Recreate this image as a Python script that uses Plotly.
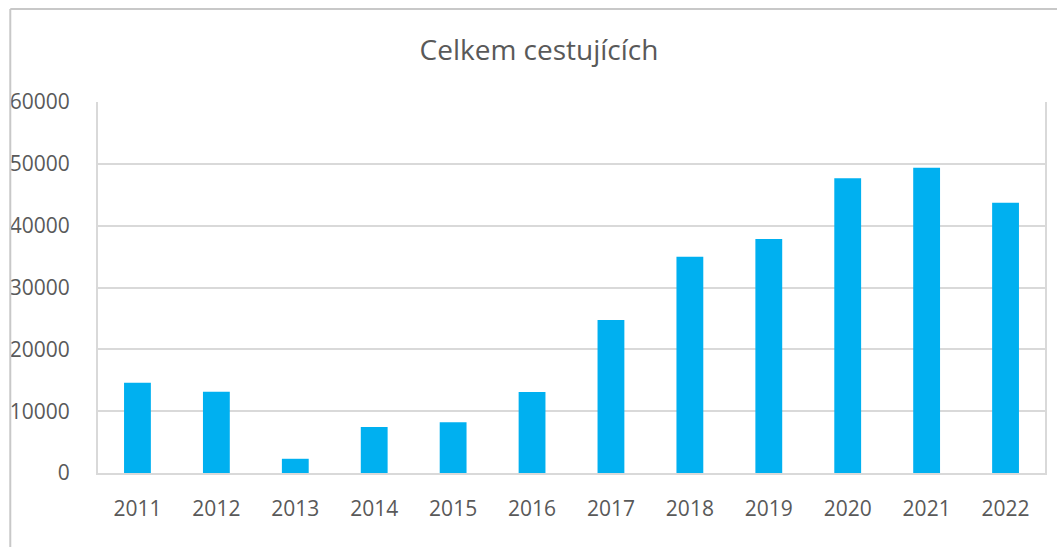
import plotly.graph_objects as go

# Passenger totals per year
years = ["2011", "2012", "2013", "2014", "2015", "2016",
         "2017", "2018", "2019", "2020", "2021", "2022"]
passengers = [14600, 13150, 2300, 7440, 8200, 13100,
              24750, 34980, 37850, 47660, 49380, 43720]
y_ticks = [0, 10000, 20000, 30000, 40000, 50000, 60000]

W, H = 1057, 547
ML, MR, MT, MB = 97, 10, 102, 74
plot_w = W - ML - MR
plot_h = H - MT - MB

fig = go.Figure(
    go.Bar(
        x=years,
        y=passengers,
        marker=dict(color="#00b0f0", line=dict(width=0)),
        width=0.34,
    )
)

grid = "#d9d9d9"
text_col = "#595959"
font = "Open Sans"

# outer frame (left and top edges) in paper coordinates
def px_x(px):
    return (px - ML) / plot_w

def px_y(py):
    return (H - MB - py) / plot_h

frame = "#c8c8c8"
shapes = [
    dict(type="line", xref="paper", yref="paper",
         x0=px_x(9), x1=px_x(W + 5), y0=px_y(9), y1=px_y(9),
         line=dict(color=frame, width=2)),
    dict(type="line", xref="paper", yref="paper",
         x0=px_x(9), x1=px_x(9), y0=px_y(9), y1=px_y(H + 5),
         line=dict(color=frame, width=2)),
]

fig.update_layout(
    width=W,
    height=H,
    margin=dict(l=ML, r=MR, t=MT, b=MB),
    paper_bgcolor="white",
    plot_bgcolor="white",
    showlegend=False,
    bargap=0.66,
    shapes=shapes,
    title=dict(
        text="Celkem cestujících",
        x=539 / W,
        xanchor="center",
        xref="container",
        y=1 - 50 / H,
        yanchor="middle",
        yref="container",
        font=dict(family=font, size=28, color=text_col),
    ),
    font=dict(family=font, color=text_col, size=21),
)

fig.update_xaxes(
    type="category",
    showgrid=False,
    showline=True,
    linecolor=grid,
    linewidth=2,
    ticks="",
    ticklabelstandoff=16,
    tickfont=dict(family=font, size=21, color=text_col),
)

fig.update_yaxes(
    range=[0, 60000],
    tickvals=y_ticks,
    ticktext=[str(v) for v in y_ticks],
    showgrid=True,
    gridcolor=grid,
    gridwidth=2,
    showline=True,
    mirror=True,
    linecolor=grid,
    linewidth=2,
    zeroline=False,
    ticks="",
    ticklabelstandoff=22,
    tickfont=dict(family=font, size=21, color=text_col),
)

fig.write_html("out.html")
